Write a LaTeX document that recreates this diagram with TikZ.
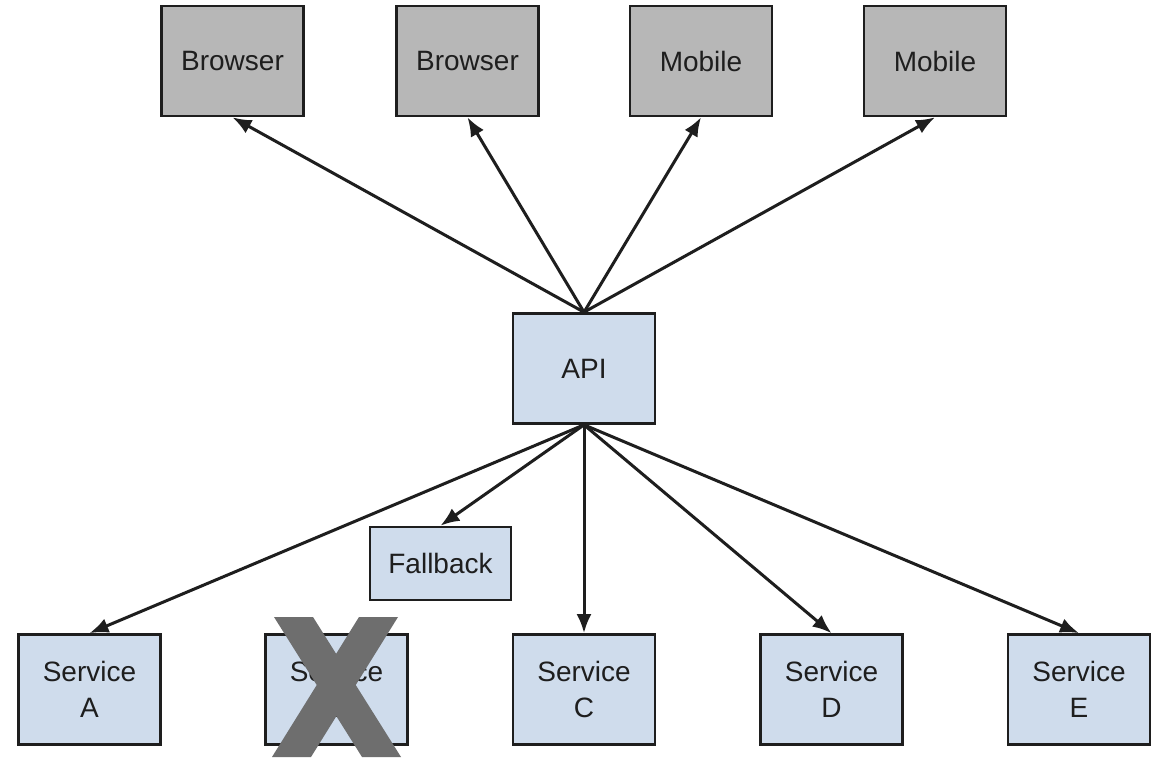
\documentclass[tikz,border=0pt]{standalone}
\usepackage{fontspec}
\setmainfont{Liberation Sans}
\usetikzlibrary{arrows.meta}
\definecolor{clientfill}{HTML}{B7B7B7}
\definecolor{svcfill}{HTML}{CFDCEC}
\definecolor{edge}{HTML}{1E1E1E}
\definecolor{xgray}{HTML}{6E6E6E}
\begin{document}
\begin{tikzpicture}[x=1pt,y=-1pt,
  box/.style={draw=edge,line width=2.7pt,text=edge,inner sep=0pt,align=center,
    font=\fontsize{28}{36}\selectfont},
  client/.style={box,fill=clientfill,minimum width=142pt,minimum height=110pt},
  svc/.style={box,fill=svcfill,minimum width=142pt,minimum height=110pt},
  conn/.style={draw=edge,line width=3pt,-{Latex[length=19pt,width=15pt]}}]
\useasboundingbox (0,0) rectangle (1169,759);
\fill[white] (0,0) rectangle (1169,759);
\node[client] (b1) at (232.5,61) {Browser};
\node[client] (b2) at (467.5,61) {Browser};
\node[client] (m1) at (701,61) {Mobile};
\node[client] (m2) at (935,61) {Mobile};
\node[svc] (api) at (584,368.5) {API};
\node[svc,minimum width=141pt,minimum height=73pt] (fb) at (440.5,563.5) {Fallback};
\node[svc] (sa) at (89.5,689.5) {Service\\A};
\node[svc] (sb) at (336.5,689.5) {Service\\B};
\node[svc] (sc) at (584,689.5) {Service\\C};
\node[svc] (sd) at (831.5,689.5) {Service\\D};
\node[svc] (se) at (1079,689.5) {Service\\E};
\foreach \t in {b1,b2,m1,m2} \draw[conn] (api.north) -- (\t.south);
\foreach \t in {sa,fb,sc,sd,se} \draw[conn] (api.south) -- (\t.north);
\fill[xgray] (274,617) -- (313,617) -- (401,757) -- (362,757) -- cycle;
\fill[xgray] (359,617) -- (398,617) -- (311,757) -- (272,757) -- cycle;
\end{tikzpicture}
\end{document}
